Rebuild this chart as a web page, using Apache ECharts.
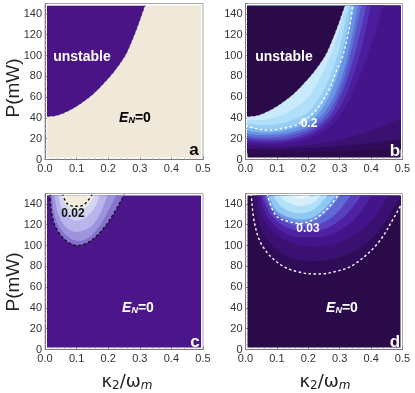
<!DOCTYPE html>
<html lang="en">
<head>
<meta charset="UTF-8">
<title>P - kappa2 density</title>
<script src="https://cdn.jsdelivr.net/npm/echarts@6/dist/echarts.min.js"></script>
<style>
  html, body { margin: 0; padding: 0; background: #fff; }
  #chart { width: 415px; height: 393px; }
</style>
</head>
<body>
<div id="chart"></div>
<script>
// ---- data: points are [kappa2/omega_m, P(mW)] ----
var xTicks = [0, 0.1, 0.2, 0.3, 0.4, 0.5];
var yTicks = [0, 20, 40, 60, 80, 100, 120, 140];

// stability border (panels a, b)
var unstableEdge = [[0,41],[0.03,41.5],[0.06,44.5],[0.09,49],[0.12,55],[0.15,62],[0.18,71],[0.21,81],[0.24,93],[0.26,103],[0.28,117],[0.30,133],[0.315,146],[0.322,150]];

// panel b : colour levels, bottom -> top
var bLevels = [
  [[0,6],[0.1,6],[0.2,7],[0.3,8],[0.4,9],[0.5,10]],
  [[0,10],[0.1,10],[0.2,11],[0.3,13],[0.4,16],[0.5,20]],
  [[0,13],[0.1,12.5],[0.2,14],[0.3,19],[0.4,28],[0.5,40]],
  [[0,16],[0.05,15],[0.1,15],[0.15,16.5],[0.2,20],[0.25,27],[0.3,42],[0.35,70],[0.4,110],[0.44,150]],
  [[0,18.5],[0.05,17],[0.1,17],[0.15,19],[0.2,23],[0.25,32],[0.3,50],[0.34,78],[0.38,120],[0.4,150]],
  [[0,20.5],[0.05,19],[0.1,19],[0.15,21],[0.2,26],[0.25,36],[0.29,53],[0.33,83],[0.37,128],[0.385,150]],
  [[0,22.5],[0.05,21],[0.1,21.5],[0.15,24],[0.2,29],[0.25,40],[0.29,59],[0.32,84],[0.36,135],[0.37,150]],
  [[0,25],[0.05,23.5],[0.1,24],[0.15,26.5],[0.2,32],[0.25,45],[0.29,66],[0.32,93],[0.35,135],[0.36,150]],
  [[0,28],[0.05,26],[0.1,26.5],[0.15,29.5],[0.2,35.5],[0.24,47],[0.28,70],[0.31,98],[0.34,138],[0.35,150]],
  [[0,31],[0.05,29],[0.1,29.5],[0.15,32.5],[0.2,39],[0.24,52],[0.28,77],[0.31,106],[0.335,142],[0.342,150]],
  [[0,34.5],[0.05,33],[0.1,34],[0.15,38],[0.2,46],[0.24,62],[0.27,80],[0.3,108],[0.325,142],[0.335,150]],
  [[0,38],[0.05,38],[0.1,41],[0.15,48],[0.2,60],[0.23,74],[0.26,92],[0.29,116],[0.31,138],[0.325,150]]
];
var bColors = ['#300c58','#3a1070','#44148a','#4b1c9c','#5232b2','#5852c6','#5e72d8','#6a94e6','#80b6f0','#98cef6','#b0dff9','#c8eafb'];
var bContour02 = [[0,33],[0.03,30],[0.07,28.2],[0.12,30],[0.16,33],[0.19,38],[0.21,43],[0.234,51],[0.266,67],[0.287,83],[0.309,99],[0.325,118],[0.335,134],[0.342,150]];

// panel c : blob near the top left
var cOuter = [[0.016,150],[0.02,133.6],[0.034,117.5],[0.066,104.8],[0.103,100],[0.146,104.8],[0.188,117.5],[0.22,131.9],[0.252,150]];
var cInner = [[0.055,150],[0.071,140],[0.098,137.7],[0.124,139.3],[0.151,150]];
var cLevels = [
  cOuter,
  [[0.022,150],[0.028,132],[0.045,118],[0.075,108],[0.103,104.5],[0.14,108],[0.175,120],[0.205,136],[0.228,150]],
  [[0.03,150],[0.04,132],[0.065,118],[0.1,113],[0.14,117],[0.17,128],[0.2,150]],
  [[0.04,150],[0.055,135],[0.08,126],[0.1,124],[0.13,127],[0.16,138],[0.175,150]],
  [[0.05,150],[0.065,140],[0.1,133],[0.135,138],[0.16,150]],
  cInner
];
var cColors = ['#8472cc','#9e94de','#b8b4ec','#d4d4f2','#ebe8ea','#f3edda'];

// panel d : bowl opening to the top
var dOuter = [[0.018,150],[0.029,121],[0.055,99],[0.114,81],[0.177,74],[0.23,72.6],[0.294,75.5],[0.347,82],[0.421,102],[0.475,128],[0.5,142]];
var dInner = [[0.069,150],[0.096,129],[0.138,123],[0.175,121.3],[0.223,126],[0.266,137],[0.298,150]];
var dLevels = [
  dOuter,
  [[0.025,150],[0.035,130],[0.06,110],[0.11,93],[0.17,86],[0.23,85],[0.29,88],[0.35,95],[0.42,112],[0.47,135],[0.5,148]],
  [[0.035,150],[0.05,130],[0.09,112],[0.15,102],[0.22,99],[0.29,102],[0.35,111],[0.41,127],[0.45,145],[0.46,150]],
  [[0.045,150],[0.065,130],[0.11,115],[0.17,108],[0.23,108],[0.29,113],[0.35,126],[0.39,142],[0.405,150]],
  [[0.052,150],[0.075,132],[0.12,119],[0.18,114],[0.24,115],[0.3,124],[0.35,140],[0.37,150]],
  [[0.058,150],[0.085,134],[0.13,122],[0.18,118.5],[0.24,121],[0.29,131],[0.33,146],[0.34,150]],
  [[0.065,150],[0.09,133],[0.135,124.5],[0.177,122],[0.225,125],[0.27,136],[0.305,150]],
  [[0.072,150],[0.097,134],[0.14,127],[0.177,125],[0.22,128],[0.26,138],[0.292,150]],
  [[0.085,150],[0.115,137],[0.17,131],[0.22,135],[0.265,150]],
  [[0.1,150],[0.135,141],[0.175,138],[0.215,141],[0.245,150]],
  [[0.13,150],[0.175,145],[0.215,150]]
];
var dColors = ['#300c58','#3a1070','#44148a','#4e22a2','#5840be','#6068d4','#7096e6','#90c8f4','#b2e0f9','#d4eefa','#eef7fb'];

// ---- layout ----
var boxes = [
  { left: 45,    top: 3.5,   w: 158, h: 156, base: '#f0e8d8' },
  { left: 245.5, top: 3.5,   w: 157, h: 156, base: '#2a0a48' },
  { left: 45,    top: 193.5, w: 158, h: 156, base: '#4b168a' },
  { left: 245.5, top: 193.5, w: 157, h: 156, base: '#2a0a48' }
];
var inset = 2;

var grids = [], xAxes = [], yAxes = [];
boxes.forEach(function (b, i) {
  grids.push({ left: b.left, top: b.top, width: b.w, height: b.h, show: true,
    backgroundColor: '#fff', borderColor: '#a8a8a8', borderWidth: 1, z: 0 });
  xAxes.push({ gridIndex: i, type: 'value', min: xTicks[0], max: xTicks[xTicks.length - 1], interval: 0.1,
    axisLine: { show: true, lineStyle: { color: '#777' } },
    axisTick: { show: true, inside: true, length: 3, lineStyle: { color: '#888' } },
    minorTick: { show: true, splitNumber: 5, length: 1.5, lineStyle: { color: '#bbb' } },
    splitLine: { show: false },
    axisLabel: { fontSize: 11, color: '#333', margin: 4, fontFamily: 'Liberation Sans',
      formatter: function (v) { return v.toFixed(1); } } });
  yAxes.push({ gridIndex: i, type: 'value', min: yTicks[0], max: 150, interval: 20,
    axisLine: { show: true, lineStyle: { color: '#777' } },
    axisTick: { show: true, inside: true, length: 3, lineStyle: { color: '#888' } },
    minorTick: { show: true, splitNumber: 4, length: 1.5, lineStyle: { color: '#bbb' } },
    splitLine: { show: false },
    axisLabel: { fontSize: 11, color: '#333', margin: 3, fontFamily: 'Liberation Sans', showMaxLabel: false } });
});
// inner data grids (the density fill stops 2px short of the frame)
boxes.forEach(function (b, i) {
  var dx = inset / b.w * 0.5, dy = inset / b.h * 150;
  grids.push({ left: b.left + inset, top: b.top + inset, width: b.w - 2 * inset, height: b.h - 2 * inset,
    show: true, backgroundColor: b.base, borderWidth: 0, z: 1 });
  xAxes.push({ gridIndex: 4 + i, type: 'value', min: dx, max: 0.5 - dx, show: false });
  yAxes.push({ gridIndex: 4 + i, type: 'value', min: dy, max: 150 - dy, show: false });
});

function band(data, color, g) {
  return { type: 'line', xAxisIndex: g, yAxisIndex: g, data: data, smooth: 0.35,
    symbol: 'none', silent: true, lineStyle: { width: 0, opacity: 0 },
    areaStyle: { color: color, opacity: 1, origin: 'end' } };
}
function contour(data, color, g, w) {
  return { type: 'line', xAxisIndex: g, yAxisIndex: g, data: data, smooth: 0.35,
    symbol: 'none', silent: true, z: 3,
    lineStyle: { color: color, width: w || 1.4, type: [2.5, 2.5] } };
}

var series = [];
// a
series.push(band(unstableEdge, '#4a1486', 4));
series.push(contour(unstableEdge, 'rgba(255,255,255,0.55)', 4, 1));
// b
bLevels.forEach(function (l, i) { series.push(band(l, bColors[i], 5)); });
series.push(band(unstableEdge, '#2a0a48', 5));
series.push(contour(unstableEdge, 'rgba(255,255,255,0.55)', 5, 1));
series.push(contour(bContour02, '#fff', 5));
// c
cLevels.forEach(function (l, i) { series.push(band(l, cColors[i], 6)); });
series.push(contour(cOuter, '#111', 6));
series.push(contour(cInner, '#111', 6));
// d
dLevels.forEach(function (l, i) { series.push(band(l, dColors[i], 7)); });
series.push(contour(dOuter, '#fff', 7));
series.push(contour(dInner, '#fff', 7));

var enRich = {
  e: { fontSize: 14, fontWeight: 'bold', fontStyle: 'italic', fontFamily: 'Liberation Sans' },
  n: { fontSize: 9, fontWeight: 'bold', fontStyle: 'italic', fontFamily: 'Liberation Sans', verticalAlign: 'bottom', padding: [6, 0, 0, 0] },
  r: { fontSize: 14, fontWeight: 'bold', fontFamily: 'Liberation Sans' }
};
function label(x, y, text, color, size, rich) {
  return { type: 'text', x: x, y: y, z: 100, silent: true,
    style: { text: text, fill: color, fontSize: size, fontWeight: 'bold', fontFamily: 'Liberation Sans',
      align: 'center', verticalAlign: 'middle', rich: rich } };
}
var kRich = {
  k: { fontSize: 18, fontFamily: 'DejaVu Sans', fill: '#222' },
  s: { fontSize: 12, fontFamily: 'DejaVu Sans', fill: '#222', padding: [8, 0, 0, 0] },
  m: { fontSize: 12, fontFamily: 'DejaVu Sans', fontStyle: 'italic', fill: '#222', padding: [8, 0, 0, 0] }
};

var graphics = [
  label(82, 57, 'unstable', '#fff', 14),
  label(135, 118, '{e|E}{n|N}{r|=0}', '#000', 14, enRich),
  label(194, 150, 'a', '#000', 17),
  label(284, 57, 'unstable', '#fff', 14),
  label(309, 124, '0.2', '#fff', 12),
  label(395, 151, 'b', '#fff', 17),
  label(73, 214, '0.02', '#111', 12),
  label(138, 308, '{e|E}{n|N}{r|=0}', '#fff', 14, enRich),
  label(195, 342, 'c', '#fff', 17),
  label(308, 229, '0.03', '#fff', 12),
  label(342, 308, '{e|E}{n|N}{r|=0}', '#fff', 14, enRich),
  label(395, 342, 'd', '#fff', 17),
  { type: 'text', x: 14, y: 88, rotation: Math.PI / 2, z: 100, silent: true,
    style: { text: 'P(mW)', fill: '#222', fontSize: 19, fontFamily: 'Liberation Sans', align: 'center', verticalAlign: 'middle' } },
  { type: 'text', x: 14, y: 282, rotation: Math.PI / 2, z: 100, silent: true,
    style: { text: 'P(mW)', fill: '#222', fontSize: 19, fontFamily: 'Liberation Sans', align: 'center', verticalAlign: 'middle' } },
  { type: 'text', x: 127, y: 382, z: 100, silent: true,
    style: { text: '{k|κ}{s|2}{k|/ω}{m|m}', rich: kRich, align: 'center', verticalAlign: 'middle' } },
  { type: 'text', x: 325, y: 382, z: 100, silent: true,
    style: { text: '{k|κ}{s|2}{k|/ω}{m|m}', rich: kRich, align: 'center', verticalAlign: 'middle' } }
];

var chart = echarts.init(document.getElementById('chart'), null, { renderer: 'canvas' });
chart.setOption({
  animation: false,
  grid: grids,
  xAxis: xAxes,
  yAxis: yAxes,
  series: series,
  graphic: graphics
});
</script>
</body>
</html>
